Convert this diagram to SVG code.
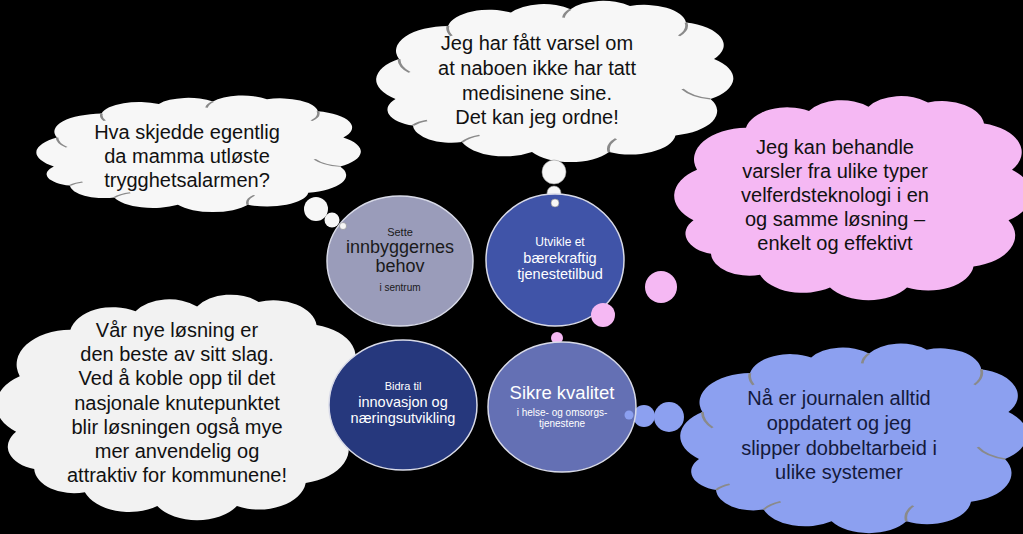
<svg xmlns="http://www.w3.org/2000/svg" width="1023" height="534" viewBox="0 0 1023 534">
<style>
  .ct { font-family: "Liberation Sans", Arial, sans-serif; font-size: 20px; text-anchor: middle; fill: #111; }
  .nt { font-family: "Liberation Sans", Arial, sans-serif; text-anchor: middle; fill: #ffffff; }
  .dk { fill: #1a1a1a; }
  .node { stroke: #d8dae8; stroke-width: 1.5; }
  .inner { fill: none; stroke: #8a8a8a; stroke-width: 0.8; }
</style>
<defs>
  <path id="cloud" d="M5,62 A15,15 0 0 1 6,38 A15,15 0 0 1 20,18 A12,12 0 0 1 38,10 A11,11 0 0 1 55,8 A11,11 0 0 1 72,6 A12,12 0 0 1 88,16 A14,14 0 0 1 96,38 A15,15 0 0 1 95,62 A15,15 0 0 1 85,84 A13,13 0 0 1 66,94 A13,13 0 0 1 44,94 A13,13 0 0 1 24,88 A11,11 0 0 1 10,78 A10,10 0 0 1 5,62 Z"/>
  <path id="cloudlines" d="M6,38 A12,12 0 0 0 9,46 M20,18 A10,10 0 0 0 21,24 M55,8 A9,9 0 0 0 53,13 M88,16 A10,10 0 0 1 86,24 M95,62 A12,12 0 0 1 87,56 M66,94 A10,10 0 0 1 68,86 M24,88 A10,10 0 0 1 29,84 M10,78 A8,8 0 0 1 14,75"/>
</defs>
<rect x="0" y="0" width="1023" height="534" fill="#000000"/>

<g id="cloud-top-left">
  <g transform="translate(38,92) scale(3.18,1.2)">
    <use href="#cloud" fill="#f7f7f7"/>
    <use href="#cloudlines" class="inner" vector-effect="non-scaling-stroke"/>
  </g>
  <circle cx="316" cy="209" r="12" fill="#f7f7f7"/>
  <circle cx="332" cy="220" r="7.5" fill="#f7f7f7"/>
  <text class="ct" x="187" y="139">Hva skjedde egentlig</text>
  <text class="ct" x="187" y="163">da mamma utløste</text>
  <text class="ct" x="187" y="187">trygghetsalarmen?</text>
</g>

<g id="cloud-top-middle">
  <g transform="translate(378,-4) scale(3.5,1.66)">
    <use href="#cloud" fill="#f7f7f7"/>
    <use href="#cloudlines" class="inner" vector-effect="non-scaling-stroke"/>
  </g>
  <circle cx="554" cy="172" r="12" fill="#f7f7f7" stroke="#999" stroke-width="0.6"/>
  <circle cx="554" cy="193" r="7" fill="#f7f7f7" stroke="#999" stroke-width="0.6"/>
  <text class="ct" x="537" y="50">Jeg har fått varsel om</text>
  <text class="ct" x="537" y="75">at naboen ikke har tatt</text>
  <text class="ct" x="537" y="100">medisinene sine.</text>
  <text class="ct" x="537" y="124">Det kan jeg ordne!</text>
</g>

<g id="cloud-pink">
  <g transform="translate(676,90) scale(3.5,2.1)">
    <use href="#cloud" fill="#f5b8f3"/>
  </g>
  <circle cx="661" cy="287" r="16" fill="#f5b8f3"/>
  <circle cx="557" cy="338" r="6" fill="#f5b8f3"/>
  <text class="ct" x="835" y="154">Jeg kan behandle</text>
  <text class="ct" x="835" y="178">varsler fra ulike typer</text>
  <text class="ct" x="835" y="202">velferdsteknologi i en</text>
  <text class="ct" x="835" y="226">og samme løsning –</text>
  <text class="ct" x="835" y="250">enkelt og effektivt</text>
</g>

<g id="cloud-bottom-left">
  <g transform="translate(-2,288) scale(3.62,2.32)">
    <use href="#cloud" fill="#f2f2f2"/>
  </g>
  <text class="ct" x="177" y="337">Vår nye løsning er</text>
  <text class="ct" x="177" y="361">den beste av sitt slag.</text>
  <text class="ct" x="177" y="385">Ved å koble opp til det</text>
  <text class="ct" x="177" y="410">nasjonale knutepunktet</text>
  <text class="ct" x="177" y="434">blir løsningen også mye</text>
  <text class="ct" x="177" y="458">mer anvendelig og</text>
  <text class="ct" x="177" y="482">attraktiv for kommunene!</text>
</g>

<g id="cloud-blue">
  <g transform="translate(682,338) scale(3.4,1.95)">
    <use href="#cloud" fill="#8ca0f0"/>
    <use href="#cloudlines" class="inner" stroke="#7080c8" vector-effect="non-scaling-stroke"/>
  </g>
  <circle cx="669" cy="417" r="15" fill="#8ca0f0"/>
  <circle cx="644" cy="416" r="11" fill="#8ca0f0"/>
  <text class="ct" x="839" y="405" style="fill:#141a3c">Nå er journalen alltid</text>
  <text class="ct" x="839" y="430" style="fill:#141a3c">oppdatert og jeg</text>
  <text class="ct" x="839" y="455" style="fill:#141a3c">slipper dobbeltarbeid i</text>
  <text class="ct" x="839" y="479" style="fill:#141a3c">ulike systemer</text>
</g>

<g id="node-sette">
  <ellipse class="node" cx="400" cy="261" rx="73" ry="65" fill="#9a9cba"/>
  <circle cx="343" cy="226" r="3.5" fill="#f7f7f7" stroke="#888" stroke-width="0.6"/>
  <text class="nt dk" x="400" y="236" font-size="11">Sette</text>
  <text class="nt dk" x="400" y="253" font-size="18">innbyggernes</text>
  <text class="nt dk" x="400" y="272" font-size="18">behov</text>
  <text class="nt dk" x="400" y="291" font-size="10">i sentrum</text>
</g>

<g id="node-utvikle">
  <ellipse class="node" cx="555" cy="260" rx="69" ry="66" fill="#4054a8"/>
  <circle cx="555" cy="203" r="4" fill="#f7f7f7" stroke="#888" stroke-width="0.6"/>
  <circle cx="603" cy="315" r="12" fill="#f5b8f3"/>
  <text class="nt" x="560" y="246" font-size="12">Utvikle et</text>
  <text class="nt" x="560" y="263" font-size="14.5">bærekraftig</text>
  <text class="nt" x="560" y="279" font-size="14.5">tjenestetilbud</text>
</g>

<g id="node-bidra">
  <ellipse class="node" cx="403" cy="405" rx="74" ry="65" fill="#26387d"/>
  <text class="nt" x="403" y="390" font-size="11">Bidra til</text>
  <text class="nt" x="403" y="407" font-size="14.5">innovasjon og</text>
  <text class="nt" x="403" y="423" font-size="14.5">næringsutvikling</text>
</g>

<g id="node-sikre">
  <ellipse class="node" cx="562" cy="407" rx="74" ry="65" fill="#6470b4"/>
  <circle cx="629" cy="415" r="4.5" fill="#8ca0f0"/>
  <text class="nt" x="562" y="399" font-size="18.5">Sikre kvalitet</text>
  <text class="nt" x="562" y="416" font-size="10">i helse- og omsorgs-</text>
  <text class="nt" x="562" y="427" font-size="10">tjenestene</text>
</g>
</svg>
